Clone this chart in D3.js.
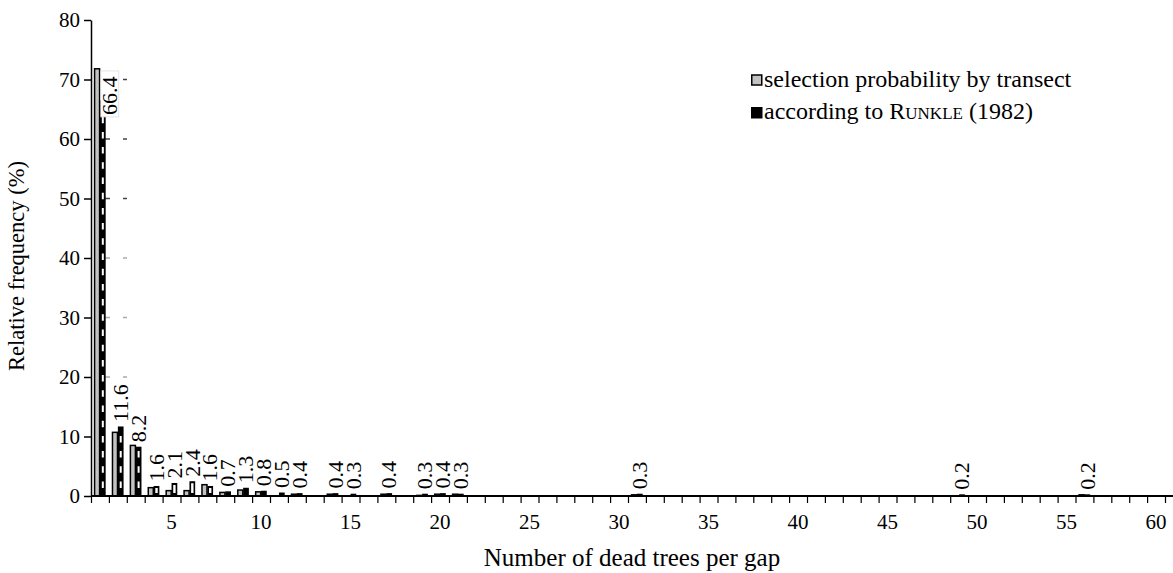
<!DOCTYPE html>
<html>
<head>
<meta charset="utf-8">
<script src="https://cdn.jsdelivr.net/npm/d3@7"></script>
<style>
    body { margin: 0; background: #fff; }
    svg { display: block; font-family: "Liberation Serif", "DejaVu Serif", serif; }
    .axis text { font-family: "Liberation Serif", serif; font-size: 21px; fill: #000; }
    .axis path, .axis line { stroke: #000; }
    .bar-label { font-size: 22px; fill: #000; }
    .legend text { font-size: 24px; fill: #000; }
</style>
</head>
<body>
<div id="chart"></div>
<script>
// number of dead trees per gap (only the classes that have a value)
var gapSizes = [1, 2, 3, 4, 5, 6, 7, 8, 9, 10, 11, 12, 14, 15, 17, 19, 20, 21, 31, 49, 56];
// selection probability by transect (%)
var transectValues = [71.8, 10.7, 8.5, 1.4, 0.9, 0.9, 1.9, 0.6, 1.0, 0.7, 0, 0.3, 0.3, 0, 0.3, 0.1, 0.3, 0.3, 0.2, 0, 0.2];
// according to Runkle (1982) (%)
var runkleValues = [66.4, 11.6, 8.2, 1.6, 2.1, 2.4, 1.6, 0.7, 1.3, 0.8, 0.5, 0.4, 0.4, 0.3, 0.4, 0.3, 0.4, 0.3, 0.3, 0.2, 0.2];

var xTickLabels = [5, 10, 15, 20, 25, 30, 35, 40, 45, 50, 55, 60];
var yTickLabels = [0, 10, 20, 30, 40, 50, 60, 70, 80];
var legendLabels = ["selection probability by transect", "according to "];

var width = 1173, height = 573;
var plotLeft = 91, plotRight = 1165, plotTop = 20, plotBottom = 496;

var data = gapSizes.map(function(g, i) {
    return { gap: g, value1: transectValues[i], value2: runkleValues[i] };
});

var svg = d3.select("#chart")
    .append("svg")
    .attr("width", width)
    .attr("height", height);

var x = d3.scaleBand()
    .domain(d3.range(1, 61))
    .range([plotLeft, plotRight])
    .padding(0);

// class boundaries for the small ticks
var xEdge = d3.scaleLinear()
    .domain([0, 60])
    .range([plotLeft, plotRight]);

var y = d3.scaleLinear()
    .domain([0, 80])
    .range([plotBottom, plotTop]);

var bw = x.bandwidth();

// faint dashed gridline remains next to the first bars
svg.append("g")
    .selectAll("line")
    .data([20, 30, 40, 50, 60, 70])
    .enter().append("line")
    .attr("x1", plotLeft + 14)
    .attr("x2", plotLeft + 36)
    .attr("y1", function(d) { return y(d); })
    .attr("y2", function(d) { return y(d); })
    .attr("stroke", function(d) { return d >= 50 ? "#444" : "#aaa"; })
    .attr("stroke-width", 1.5)
    .attr("stroke-dasharray", "5 13");

// Y axis
var yAxis = svg.append("g")
    .attr("class", "axis")
    .attr("transform", "translate(" + plotLeft + ",0)")
    .call(d3.axisLeft(y)
        .tickValues(yTickLabels)
        .tickSize(7)
        .tickSizeOuter(0)
        .tickPadding(4));
yAxis.select(".domain").attr("stroke-width", 1.5);
yAxis.selectAll(".tick line").attr("stroke-width", 1.5);

// X axis: ticks at every class boundary
var xTicks = svg.append("g")
    .attr("class", "axis")
    .attr("transform", "translate(0," + plotBottom + ")")
    .call(d3.axisBottom(xEdge)
        .tickValues(d3.range(0, 61))
        .tickSize(7)
        .tickFormat(""));
xTicks.select(".domain").remove();
xTicks.selectAll(".tick line").attr("stroke-width", 1.2);

// labels in the middle of the classes
var xLabels = svg.append("g")
    .attr("class", "axis")
    .attr("transform", "translate(0," + plotBottom + ")")
    .call(d3.axisBottom(x)
        .tickValues(xTickLabels)
        .tickSize(0)
        .tickPadding(18));
xLabels.select(".domain").remove();

// bars: transect
svg.append("g")
    .selectAll("rect")
    .data(data.filter(function(d) { return d.value1 > 0; }))
    .enter().append("rect")
    .attr("x", function(d) { return x(d.gap) + bw * 0.2; })
    .attr("y", function(d) { return y(d.value1); })
    .attr("width", bw * 0.28)
    .attr("height", function(d) { return y(0) - y(d.value1); })
    .attr("fill", "#c2c2c2")
    .attr("stroke", "#000")
    .attr("stroke-width", 1.5);

// bars: Runkle
var black = svg.append("g")
    .selectAll("g")
    .data(data)
    .enter().append("g");

black.append("rect")
    .attr("x", function(d) { return x(d.gap) + bw * 0.5; })
    .attr("y", function(d) { return y(d.value2) - 0.5; })
    .attr("width", bw * 0.32)
    .attr("height", function(d) { return y(0) - y(d.value2) + 0.5; })
    .attr("fill", "#000");

// white dashes down the middle of the tall black bars
black.filter(function(d) { return d.value2 >= 5; })
    .append("line")
    .attr("x1", function(d) { return x(d.gap) + bw * 0.66; })
    .attr("x2", function(d) { return x(d.gap) + bw * 0.66; })
    .attr("y1", plotBottom - 8)
    .attr("y2", function(d) { return y(d.value2) + 1.5; })
    .attr("stroke", "#fff")
    .attr("stroke-width", 2)
    .attr("stroke-dasharray", "6.5 8.7");

// and a small white box inside the short ones
black.filter(function(d) { return d.value2 >= 1.5 && d.value2 < 5; })
    .append("rect")
    .attr("x", function(d) { return x(d.gap) + bw * 0.66 - 1.2; })
    .attr("y", function(d) { return y(d.value2) + 1.5; })
    .attr("width", 2.4)
    .attr("height", function(d) { return y(0) - y(d.value2) - 4.5; })
    .attr("fill", "#fff");

// value labels (rotated)
var labels = svg.append("g")
    .selectAll("g")
    .data(data)
    .enter().append("g")
    .attr("transform", function(d, i) {
        if (i == 0) {
            // first label sits beside the tall bars
            return "translate(" + (x(d.gap) + bw * 1.05) + "," + (y(d.value2) + 14) + ") rotate(-90)";
        }
        return "translate(" + (x(d.gap) + bw * 0.66) + "," + (y(d.value2) - 5) + ") rotate(-90)";
    });

labels.filter(function(d, i) { return i == 0; })
    .append("rect")
    .attr("x", -2)
    .attr("y", -9)
    .attr("width", 46)
    .attr("height", 18)
    .attr("fill", "#fff")
    .attr("stroke", "#ddd")
    .attr("stroke-width", 0.8);

labels.append("text")
    .attr("class", "bar-label")
    .attr("dy", "0.33em")
    .text(function(d) { return d3.format(".1f")(d.value2); });

// axis titles
svg.append("text")
    .attr("x", 632)
    .attr("y", 566)
    .attr("text-anchor", "middle")
    .style("font-size", "25px")
    .text("Number of dead trees per gap");

svg.append("text")
    .attr("transform", "translate(24," + 266 + ") rotate(-90)")
    .attr("text-anchor", "middle")
    .style("font-size", "22.5px")
    .text("Relative frequency (%)");

// legend
var legend = svg.append("g")
    .attr("class", "legend")
    .attr("transform", "translate(751,0)");

legend.append("rect")
    .attr("x", 0.75).attr("y", 75)
    .attr("width", 10).attr("height", 10)
    .attr("fill", "#c2c2c2")
    .attr("stroke", "#000")
    .attr("stroke-width", 1.5);

legend.append("text")
    .attr("x", 13).attr("y", 87)
    .text(legendLabels[0]);

legend.append("rect")
    .attr("x", 0).attr("y", 107)
    .attr("width", 11.5).attr("height", 11.5)
    .attr("fill", "#000");

var l2 = legend.append("text")
    .attr("x", 13).attr("y", 119);
l2.append("tspan").text(legendLabels[1]);
l2.append("tspan").style("font-variant", "small-caps").text("Runkle");
l2.append("tspan").text(" (1982)");

// x axis line, drawn last so it sits on the bars
svg.append("line")
    .attr("x1", plotLeft)
    .attr("x2", width)
    .attr("y1", plotBottom)
    .attr("y2", plotBottom)
    .attr("stroke", "#000")
    .attr("stroke-width", 2);
</script>
</body>
</html>
